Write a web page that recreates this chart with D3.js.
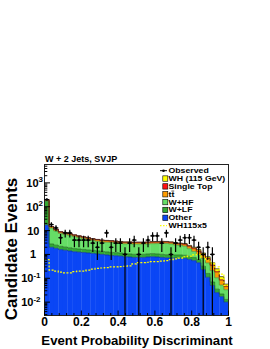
<!DOCTYPE html>
<html>
<head>
<meta charset="utf-8">
<script src="https://cdn.jsdelivr.net/npm/d3@7"></script>
<style>
	body { margin: 0; background: #fff; }
	svg text { font-family: "Liberation Sans", Arial, sans-serif; }
</style>
</head>
<body>
<svg id="plot" width="270" height="349"></svg>
<script>

// 40 bins of the discriminant, lower edges
const DISC_LOW = d3.range(40).map(i => i * 0.025);
const BIN_W = 0.025;

const OTHER = [17, 2.0, 1.8, 1.6, 1.5, 1.4, 1.3, 1.25, 1.2, 1.15, 1.1, 1.05, 1.0, 0.95, 0.9, 0.88, 0.85, 0.8, 0.78, 0.75,
	0.75, 0.75, 0.78, 0.8, 0.78, 0.75, 0.72, 0.7, 0.7, 0.7, 0.68, 0.62, 0.55, 0.45, 0.23, 0.11, 0.05, 0.025, 0.017, 0.01];
const W_LF = [150, 0.75, 0.65, 0.58, 0.53, 0.5, 0.46, 0.44, 0.42, 0.4, 0.38, 0.37, 0.35, 0.33, 0.32, 0.31, 0.3, 0.28, 0.27, 0.26,
	0.26, 0.26, 0.27, 0.28, 0.27, 0.26, 0.25, 0.25, 0.25, 0.25, 0.24, 0.22, 0.19, 0.16, 0.09, 0.05, 0.02, 0.01, 0.005, 0.003];
const W_HF = [12, 9.95, 7.25, 5.4, 4.8, 4.45, 3.85, 3.4, 3.0, 2.7, 2.35, 2.15, 2.0, 1.95, 1.95, 1.85, 1.75, 1.7, 1.75, 1.7,
	1.7, 1.7, 1.7, 1.75, 1.8, 1.9, 1.9, 1.8, 1.55, 1.45, 1.3, 0.9, 0.6, 0.39, 0.37, 0.28, 0.14, 0.07, 0.03, 0.02];
const TTBAR = [14, 1.5, 1.15, 0.9, 0.8, 0.75, 0.66, 0.6, 0.55, 0.5, 0.46, 0.43, 0.4, 0.39, 0.38, 0.36, 0.35, 0.34, 0.34, 0.33,
	0.33, 0.33, 0.34, 0.35, 0.35, 0.36, 0.35, 0.34, 0.31, 0.3, 0.35, 0.36, 0.36, 0.32, 0.25, 0.2, 0.13, 0.075, 0.03, 0.012];
const SINGLE_TOP = [5, 0.75, 0.58, 0.45, 0.4, 0.38, 0.33, 0.3, 0.28, 0.25, 0.23, 0.22, 0.2, 0.2, 0.19, 0.18, 0.18, 0.17, 0.17, 0.17,
	0.17, 0.17, 0.17, 0.18, 0.18, 0.18, 0.18, 0.17, 0.16, 0.15, 0.15, 0.12, 0.1, 0.08, 0.06, 0.04, 0.02, 0.01, 0.005, 0.002];
// signal drawn x5 as the dashed line; the stacked one is the plain signal
const WH115X5 = [0.6, 0.22, 0.2, 0.18, 0.17, 0.17, 0.19, 0.2, 0.2, 0.22, 0.24, 0.26, 0.27, 0.28, 0.3, 0.3, 0.31, 0.32, 0.33, 0.4,
	0.45, 0.45, 0.47, 0.5, 0.5, 0.52, 0.55, 0.6, 0.65, 0.7, 0.8, 0.85, 0.95, 1.0, 0.75, 0.6, 0.45, 0.3, 0.15, 0.05];
const OBSERVED = [200, 18, 13, 5, 8, 8, 4, 4, 4, 4, 3, 2, 3, 8, 2, 3, 3, 1, 3, 4,
	1, 3, 4, 6, 6, 3, 8, 1, 3, 4, 5, 5, 4, 2, 1, 2, 1, 0, 0, 0];

const X_TICKS = [0, 0.2, 0.4, 0.6, 0.8, 1];
const X_TICK_LABELS = ['0', '0.2', '0.4', '0.6', '0.8', '1'];
const Y_TICKS = [0.01, 0.1, 1, 10, 100, 1000];
const Y_TICK_EXP = ['-2', '-1', '', '', '2', '3'];
const Y_TICK_BASE = ['10', '10', '1', '10', '10', '10'];

const LEGEND_LABELS = ['Observed', 'WH (115 GeV)', 'Single Top', 'tt', 'W+HF', 'W+LF', 'Other', 'WH115x5'];

const COLORS = {
	other: '#0a46f5',
	wlf: '#33a833',
	whf: '#66dd66',
	tt: '#ff9c00',
	stop: '#ff1010',
	wh: '#ffff00'
};

const svg = d3.select('#plot');

const x = d3.scaleLinear().domain([0, 1]).range([44.5, 228.5]);
const y = d3.scaleLog().domain([0.00275, 5900]).range([315.5, 164.5]);
const yb = v => v > 0 ? Math.min(y(v), 315.5) : 315.5;

// stack table
let rows = DISC_LOW.map((lo, i) => ({
	lo: lo,
	other: OTHER[i],
	wlf: W_LF[i],
	whf: W_HF[i],
	tt: TTBAR[i],
	stop: SINGLE_TOP[i],
	wh: WH115X5[i] / 5
}));
const keys = ['other', 'wlf', 'whf', 'tt', 'stop', 'wh'];
const series = d3.stack().keys(keys)(rows);

const plot = svg.append('g');
plot.append('clipPath').attr('id', 'clip')
	.append('rect').attr('x', 44.5).attr('y', 164.5).attr('width', 184).attr('height', 151);
const area = plot.append('g').attr('clip-path', 'url(#clip)');

series.forEach(s => {
	area.append('g')
		.selectAll('rect')
		.data(s)
		.enter().append('rect')
		.attr('x', d => x(d.data.lo))
		.attr('width', d => x(d.data.lo + BIN_W) - x(d.data.lo) + 0.3)
		.attr('y', d => yb(d[1]))
		.attr('height', d => Math.max(0, yb(d[0]) - yb(d[1])))
		.attr('fill', COLORS[s.key]);
});

// darker outline on top of each layer
const step = d3.line().curve(d3.curveStepAfter);
series.forEach(s => {
	let pts = s.map(d => [x(d.data.lo), yb(d[1])]);
	pts.push([x(1), yb(s[s.length - 1][1])]);
	area.append('path')
		.attr('d', step(pts))
		.attr('fill', 'none')
		.attr('stroke', s.key === 'wh' ? '#222' : d3.color(COLORS[s.key]).darker(1.2))
		.attr('stroke-width', 0.7);
});

// WH x5 dashed
let sig = DISC_LOW.map((lo, i) => [x(lo), yb(WH115X5[i])]);
sig.push([x(1), yb(WH115X5[WH115X5.length - 1])]);
area.append('path')
	.attr('d', step(sig))
	.attr('fill', 'none')
	.attr('stroke', '#ffff00')
	.attr('stroke-width', 1.2)
	.attr('stroke-dasharray', '2,1.5');

// observed with sqrt(N) errors
const obs = DISC_LOW.map((lo, i) => ({ lo: lo, n: OBSERVED[i] })).filter(d => d.n > 0);
const og = area.append('g').attr('stroke', '#000').attr('stroke-width', 1.2);
og.selectAll('line.v').data(obs).enter().append('line')
	.attr('x1', d => x(d.lo + BIN_W / 2)).attr('x2', d => x(d.lo + BIN_W / 2))
	.attr('y1', d => yb(d.n + Math.sqrt(d.n)))
	.attr('y2', d => yb(d.n - Math.sqrt(d.n)));
og.selectAll('line.h').data(obs).enter().append('line')
	.attr('x1', d => x(d.lo)).attr('x2', d => x(d.lo + BIN_W))
	.attr('y1', d => y(d.n)).attr('y2', d => y(d.n));
area.append('g').selectAll('circle').data(obs).enter().append('circle')
	.attr('cx', d => x(d.lo + BIN_W / 2)).attr('cy', d => y(d.n))
	.attr('r', 1.3).attr('fill', '#000');

// frame
svg.append('rect')
	.attr('x', 44.5).attr('y', 164.5).attr('width', 184).attr('height', 151)
	.attr('fill', 'none').attr('stroke', '#222').attr('stroke-width', 1);

// x ticks
const axes = svg.append('g').attr('stroke', '#000').attr('stroke-width', 1);
d3.range(0, 1.0001, 0.04).forEach(v => {
	let major = Math.abs(v / 0.2 - Math.round(v / 0.2)) < 1e-6;
	axes.append('line')
		.attr('x1', x(v)).attr('x2', x(v))
		.attr('y1', 315.5).attr('y2', 315.5 - (major ? 5 : 2.5));
});
// y ticks
y.ticks().forEach(v => {
	let major = Math.abs(Math.log10(v) - Math.round(Math.log10(v))) < 1e-6;
	axes.append('line')
		.attr('x1', 44.5).attr('x2', 44.5 + (major ? 5.5 : 2.8))
		.attr('y1', y(v)).attr('y2', y(v));
});

svg.append('g').selectAll('text')
	.data(X_TICKS)
	.enter().append('text')
	.attr('x', d => x(d))
	.attr('y', 326)
	.attr('text-anchor', 'middle')
	.attr('font-size', 12)
	.attr('font-weight', 'bold')
	.text((d, i) => X_TICK_LABELS[i]);

const yl = svg.append('g').attr('font-weight', 'bold');
Y_TICKS.forEach((v, i) => {
	let exp = Y_TICK_EXP[i];
	let t = yl.append('text')
		.attr('y', y(v) + 4)
		.attr('text-anchor', 'end')
		.attr('font-size', 11);
	if (exp === '') {
		t.attr('x', Y_TICK_BASE[i] === '1' ? 36 : 39.5).text(Y_TICK_BASE[i]);
	} else {
		t.attr('x', exp[0] === '-' ? 40.5 : 43);
		t.append('tspan').text(Y_TICK_BASE[i]);
		t.append('tspan').attr('dy', -4.5).attr('font-size', 8).text(exp);
	}
});

// titles
svg.append('text')
	.attr('x', 45).attr('y', 161.5)
	.attr('font-size', 9)
	.attr('font-weight', 'bold')
	.text('W + 2 Jets, SVJP');

svg.append('text')
	.attr('transform', 'translate(17,249) rotate(-90)')
	.attr('text-anchor', 'middle')
	.attr('font-size', 17)
	.attr('font-weight', 'bold')
	.text('Candidate Events');

svg.append('text')
	.attr('x', 137).attr('y', 344.5)
	.attr('text-anchor', 'middle')
	.attr('font-size', 13.2)
	.attr('font-weight', 'bold')
	.text('Event Probability Discriminant');

// legend (text is short and wide like the original)
const legKeys = ['obs', 'wh', 'stop', 'tt', 'whf', 'wlf', 'other', 'sig'];
const leg = svg.append('g');
LEGEND_LABELS.forEach((lab, i) => {
	let cy = 170.7 + i * 7.85;
	let k = legKeys[i];
	if (k === 'obs') {
		leg.append('line').attr('x1', 160).attr('x2', 167).attr('y1', cy).attr('y2', cy)
			.attr('stroke', '#000').attr('stroke-width', 1);
		leg.append('circle').attr('cx', 163.5).attr('cy', cy).attr('r', 1.3).attr('fill', '#000');
	} else if (k === 'sig') {
		leg.append('line').attr('x1', 160).attr('x2', 167).attr('y1', cy).attr('y2', cy)
			.attr('stroke', '#ffff00').attr('stroke-width', 1.2).attr('stroke-dasharray', '1.5,1.5');
	} else {
		leg.append('rect').attr('x', 162.8).attr('y', cy - 2.7).attr('width', 5).attr('height', 5.4)
			.attr('fill', COLORS[k]).attr('stroke', '#000').attr('stroke-width', 0.6);
	}
	leg.append('text')
		.attr('transform', 'translate(168.5,' + (cy + 2.5) + ') scale(1.25,1)')
		.attr('font-size', 7)
		.attr('font-weight', 'bold')
		.text(lab);
	if (k === 'tt') {
		// bar over the second t
		leg.append('line').attr('x1', 171.4).attr('x2', 174.2).attr('y1', cy - 3.2).attr('y2', cy - 3.2)
			.attr('stroke', '#000').attr('stroke-width', 0.7);
	}
});

</script>
</body>
</html>
